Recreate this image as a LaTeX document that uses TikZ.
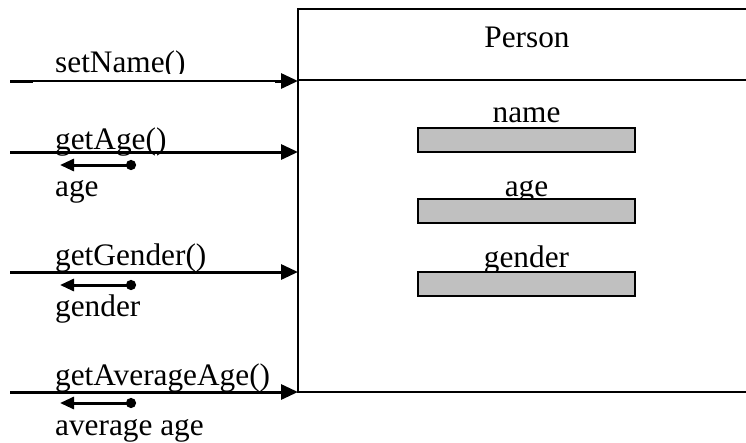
\documentclass[tikz,border=0pt]{standalone}
\usepackage{fontspec}
\setmainfont{Liberation Serif}
\usetikzlibrary{arrows.meta}
\definecolor{attrgray}{HTML}{C0C0C0}
\begin{document}
\begin{tikzpicture}[x=1pt,y=-1pt,
  lbl/.style={inner sep=0pt, font=\fontsize{31.3}{36}\selectfont},
  msg/.style={line width=3pt, -{Triangle[length=17pt,width=15pt]}},
  thinline/.style={line width=1.2pt},
  stub/.style={line width=3pt},
  ret/.style={line width=3pt, {Triangle[length=14pt,width=12pt]}-{Circle[length=10pt]}},
  attr/.style={draw, line width=2pt, fill=attrgray, minimum width=217pt, minimum height=24pt, inner sep=0pt},
  boxline/.style={line width=2.2pt}]
\useasboundingbox (0,0) rectangle (746,442);
% class box
\coordinate (tl) at (298,9);
\coordinate (tr) at (746,9);
\coordinate (dl) at (298,80);
\coordinate (dr) at (746,80);
\coordinate (a1) at (298,152);
\coordinate (a2) at (298,272);
\coordinate (bl) at (298,392);
\coordinate (br) at (746,392);
\draw[boxline] (tr) -- (tl) -- (bl) -- (br);
\draw[boxline] (dl) -- (dr);
\node[lbl, anchor=base] (person) at (527,47) {Person};
% attributes
\node[lbl, anchor=base] (lname) at (526.5,122) {name};
\node[attr] (bname) at (526.5,140) {};
\node[lbl, anchor=base] (lage) at (526.5,196) {age};
\node[attr] (bage) at (526.5,211) {};
\node[lbl, anchor=base] (lgender) at (526.5,267) {gender};
\node[attr] (bgender) at (526.5,284) {};
% setName
\begin{scope}
\clip (0,0) rectangle (297,73);
\node[lbl, anchor=base west] (setname) at (55,72) {setName()};
\end{scope}
\coordinate (s0) at (10,81);
\coordinate (s1) at (33,81);
\coordinate (s2) at (275,81);
\draw[stub] (s0) -- (s1);
\draw[thinline] (s1) -- (s2);
\draw[msg] (s2) -- (298,81);
% getAge
\node[lbl, anchor=base west] (getage) at (55,149) {getAge()};
\coordinate (g1) at (10,152);
\draw[msg] (g1) -- (a1);
\coordinate (r1a) at (60,165);
\coordinate (r1b) at (136,165);
\draw[ret] (r1a) -- (r1b);
\node[lbl, anchor=base west] (age) at (55,196) {age};
% getGender
\node[lbl, anchor=base west] (getgender) at (55,265) {getGender()};
\coordinate (g2) at (10,272);
\draw[msg] (g2) -- (a2);
\coordinate (r2a) at (60,285);
\coordinate (r2b) at (136,285);
\draw[ret] (r2a) -- (r2b);
\node[lbl, anchor=base west] (gender) at (55,316) {gender};
% getAverageAge
\node[lbl, anchor=base west] (getavg) at (55,385) {getAverageAge()};
\coordinate (g3) at (10,392);
\draw[msg] (g3) -- (bl);
\coordinate (r3a) at (60,403);
\coordinate (r3b) at (136,403);
\draw[ret] (r3a) -- (r3b);
\node[lbl, anchor=base west] (avg) at (55,435) {average age};
\end{tikzpicture}
\end{document}
